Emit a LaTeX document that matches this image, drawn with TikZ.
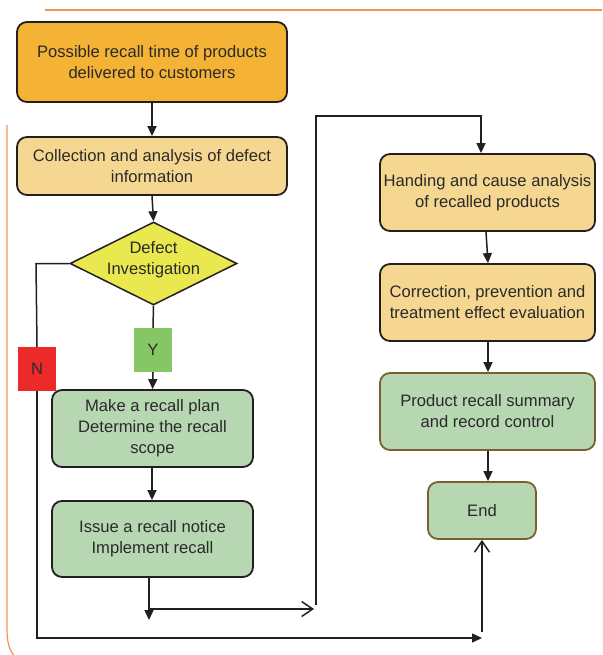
\documentclass[tikz,border=0pt]{standalone}
\usepackage{fontspec}
\setmainfont{Liberation Sans}
\usetikzlibrary{arrows.meta,shapes.geometric,calc}

\definecolor{boxline}{HTML}{231F20}
\definecolor{brownline}{HTML}{7B5F32}
\definecolor{txtc}{HTML}{2A2A2A}
\definecolor{orangeA}{HTML}{F5B335}
\definecolor{orangeB}{HTML}{F6D792}
\definecolor{greenA}{HTML}{B6D7B1}
\definecolor{yellowA}{HTML}{E9E84E}
\definecolor{greenY}{HTML}{84C764}
\definecolor{redN}{HTML}{ED2A2A}
\definecolor{rule}{HTML}{F0955A}

\begin{document}
\begin{tikzpicture}[x=1pt,y=1pt,
  txt/.style={text=txtc, align=center, font=\fontsize{16.6}{21}\selectfont},
  box/.style={txt, draw=boxline, line width=1.8pt, rounded corners=10pt, inner sep=0pt},
  bigbox/.style={box, minimum width=270pt},
  midbox/.style={box, minimum width=201pt, minimum height=77pt, fill=greenA},
  rbox/.style={box, minimum width=215pt, minimum height=77pt},
  tag/.style={txt, minimum width=38pt, minimum height=44pt, inner sep=0pt},
  conn/.style={draw=boxline, line width=1.5pt},
  fa/.style={conn, -{Triangle[length=10pt,width=9pt]}},
  oa/.style={conn, -{Straight Barb[length=11pt,width=15pt]}}
]
\useasboundingbox (0,0) rectangle (602,-655);

% page rules
\draw[rule, line width=1.2pt] (45,-10) -- (602,-10);
\draw[rule, line width=1.2pt] (7,-125) -- (7,-628) .. controls (7,-645) and (10,-650) .. (14,-656);

% left column
\node[bigbox, fill=orangeA, minimum height=80pt] (start) at (152,-62)
  {Possible recall time of products\\delivered to customers};
\node[bigbox, fill=orangeB, minimum height=58pt] (collect) at (152,-166)
  {Collection and analysis of defect\\information};
\node[diamond, draw=boxline, line width=1.5pt, fill=yellowA, inner sep=0pt,
      minimum width=167pt, minimum height=83pt] (inv) at (153.5,-263.5) {};
\node[txt] (invtext) at (153.5,-259.5) {Defect\\Investigation};
\node[tag, fill=greenY] (yes) at (153,-350) {Y};
\node[tag, fill=redN] (no) at (37,-369) {N};
\node[midbox] (plan) at (152.5,-428.5)
  {Make a recall plan\\Determine the recall\\scope};
\node[midbox, minimum height=76pt] (issue) at (152.5,-539)
  {Issue a recall notice\\Implement recall};

% right column
\node[rbox, fill=orangeB] (handle) at (487.5,-192.5)
  {Handing and cause analysis\\of recalled products};
\node[rbox, fill=orangeB] (correct) at (487.5,-302.5)
  {Correction, prevention and\\treatment effect evaluation};
\node[rbox, fill=greenA, draw=brownline] (summary) at (487.5,-411.5)
  {Product recall summary\\and record control};
\node[box, fill=greenA, draw=brownline, minimum width=108pt, minimum height=57pt] (finish) at (482,-510.5) {End};

% junction points
\coordinate (issueout) at (149,-620);
\coordinate (jl) at (149,-609);
\coordinate (jr) at (314,-609);
\coordinate (up) at (316,-605);
\coordinate (top) at (316,-116);
\coordinate (nleft) at (36,-263.5);
\coordinate (nend) at (482,-638);
\coordinate (endin) at (482,-632);

% connectors
\draw[fa] (start.south) -- (collect.north);
\draw[fa] (collect.south) -- (inv.north);
\draw[conn] (inv.south) -- (yes.north);
\draw[fa] (yes.south) -- (plan.north);
\draw[fa] ([xshift=-0.5pt]plan.south) -- ([xshift=-0.5pt]issue.north);
\draw[conn] (inv.west) -- (nleft) -- (no.north);
\draw[fa] (no.south) |- (nend);
\draw[oa] (endin) -- (finish.south);
\draw[fa] (issue.south -| issueout) -- (issueout);
\draw[oa] (jl) -- (jr);
\draw[fa] (up) -- (top) -| ([xshift=-6.5pt]handle.north);
\draw[fa] ([xshift=-1.5pt]handle.south) -- ([xshift=0.5pt]correct.north);
\draw[fa] ([xshift=0.5pt]correct.south) -- ([xshift=0.5pt]summary.north);
\draw[fa] ([xshift=0.5pt]summary.south) -- ([xshift=6pt]finish.north);
\end{tikzpicture}
\end{document}
